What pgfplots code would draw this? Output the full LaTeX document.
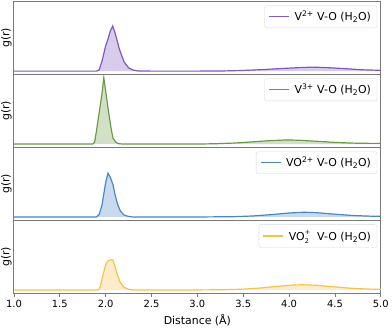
\documentclass[border=0pt]{standalone}
\usepackage{fontspec}
\setmainfont{DejaVu Sans}
\usepackage{pgfplots}
\usepackage{pgfplotstable}
\pgfplotsset{compat=1.18}
\usepgfplotslibrary{groupplots}
\usetikzlibrary{calc}

\definecolor{cpurple}{HTML}{7E57C2}
\definecolor{cgreen}{HTML}{6B9A47}
\definecolor{cblue}{HTML}{4A86C8}
\definecolor{cyellow}{HTML}{F4C24A}
\definecolor{spine}{HTML}{7A7A7A}

% V2+
\pgfplotstableread{
r g
1.00 0
1.90 0
1.93 0.2
1.96 1.5
2.00 3.8
2.02 4.6
2.05 6.0
2.076 6.8
2.10 5.9
2.15 3.3
2.20 1.4
2.25 0.5
2.30 0.15
2.35 0.03
2.50 0
3.00 0
3.30 0.03
3.50 0.1
3.70 0.22
3.90 0.38
4.10 0.52
4.25 0.6
4.40 0.54
4.60 0.38
4.80 0.2
5.00 0.12
}\vtwo

% V3+
\pgfplotstableread{
r g
1.00 0
1.86 0
1.88 0.3
1.90 2.0
1.93 4.8
1.96 7.6
1.98 10
2.00 8.0
2.03 5.0
2.06 2.3
2.08 0.9
2.11 0.3
2.14 0.05
2.20 0
3.00 0
3.20 0.05
3.40 0.15
3.60 0.33
3.80 0.52
3.97 0.62
4.10 0.58
4.30 0.42
4.50 0.25
4.70 0.14
4.90 0.1
5.00 0.1
}\vthree

% VO2+
\pgfplotstableread{
r g
1.00 0
1.90 0
1.93 0.4
1.96 1.8
2.00 5.2
2.025 6.6
2.05 6.0
2.08 4.9
2.10 3.5
2.13 1.9
2.16 0.9
2.20 0.3
2.25 0.08
2.30 0
3.00 0
3.40 0.05
3.60 0.15
3.80 0.35
4.00 0.6
4.16 0.72
4.30 0.65
4.50 0.42
4.70 0.22
4.90 0.12
5.00 0.1
}\vofour

% VO2+ (pervanadyl)
\pgfplotstableread{
r g
1.00 0
1.92 0
1.94 0.4
1.97 2.2
2.00 3.8
2.025 4.4
2.05 4.5
2.08 4.5
2.10 3.6
2.13 2.2
2.16 1.1
2.20 0.4
2.25 0.1
2.30 0
3.00 0
3.30 0.03
3.50 0.12
3.70 0.3
3.90 0.58
4.05 0.75
4.15 0.78
4.30 0.7
4.50 0.45
4.70 0.22
4.90 0.12
5.00 0.1
}\vofive

\newcommand{\stk}[2]{\makebox[0pt][l]{\raisebox{0.58em}{\fontsize{6.5}{6.5}\selectfont #1}}\raisebox{-0.3em}{\fontsize{6.5}{6.5}\selectfont #2}}

\begin{document}
\begin{tikzpicture}
\begin{groupplot}[
    group style={group size=1 by 4, vertical sep=0pt},
    scale only axis,
    width=368.7bp, height=73.3bp,
    xmin=1, xmax=5, ymin=-0.5, ymax=10.5,
    ytick=\empty, xtick=\empty,
    axis line style={spine, line width=0.9bp},
    tick style={spine, line width=0.8bp},
    xtick pos=bottom, tick align=outside, major tick length=3.5bp,
    ylabel={g(r)},
    label style={font=\fontsize{11}{13}\selectfont},
    ylabel style={at={(axis description cs:-0.003,0.5)}, anchor=south, inner sep=1bp},
    legend cell align=left,
    legend image code/.code={\draw[#1, line width=1.2bp] (0bp,0bp) -- (20bp,0bp);
        \path (23bp,0bp);},
    legend style={at={(0.99,0.943)}, anchor=north east, draw=black!15,
        rounded corners=2bp, font=\fontsize{11}{13}\selectfont,
        inner xsep=4bp, inner ysep=3.5bp},
]
\nextgroupplot
\addplot[draw=none, fill=cpurple, fill opacity=0.3, forget plot] table[x=r,y=g] {\vtwo} \closedcycle;
\addplot[cpurple, line width=1.2bp] table[x=r,y=g] {\vtwo};
\addlegendentry{V\textsuperscript{2+} V-O (H\textsubscript{2}O)}

\nextgroupplot
\addplot[draw=none, fill=cgreen, fill opacity=0.3, forget plot] table[x=r,y=g] {\vthree} \closedcycle;
\addplot[cgreen, line width=1.2bp] table[x=r,y=g] {\vthree};
\addlegendentry{V\textsuperscript{3+} V-O (H\textsubscript{2}O)}

\nextgroupplot
\addplot[draw=none, fill=cblue, fill opacity=0.3, forget plot] table[x=r,y=g] {\vofour} \closedcycle;
\addplot[cblue, line width=1.2bp] table[x=r,y=g] {\vofour};
\addlegendentry{VO\textsuperscript{2+} V-O (H\textsubscript{2}O)}

\nextgroupplot[
    xtick={1,1.5,...,5},
    xticklabel style={font=\fontsize{10}{12}\selectfont},
    xticklabel={\pgfmathprintnumber[fixed,fixed zerofill,precision=1]{\tick}},
    /pgf/number format/assume math mode=true,
    xlabel={Distance (Å)},
]
\addplot[draw=none, fill=cyellow, fill opacity=0.3, forget plot] table[x=r,y=g] {\vofive} \closedcycle;
\addplot[cyellow, line width=1.2bp] table[x=r,y=g] {\vofive};
\addlegendentry{VO\stk{+}{2}\hspace{0.45em} V-O (H\textsubscript{2}O)}
\end{groupplot}
\path ($(group c1r1.north west)+(-14bp,1.5bp)$) rectangle ($(group c1r4.south east)+(9.3bp,-29.3bp)$);
\end{tikzpicture}
\end{document}
